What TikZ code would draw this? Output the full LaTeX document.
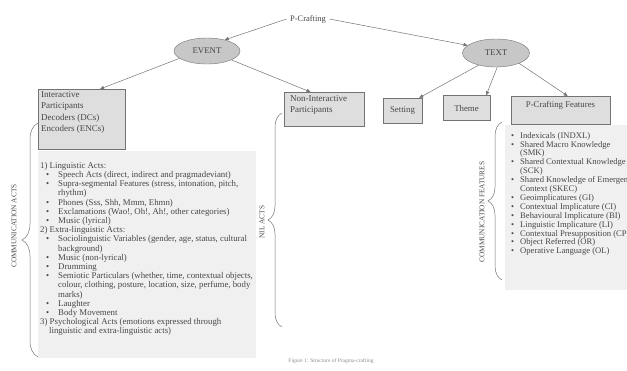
\documentclass[tikz,border=0pt]{standalone}
\usepackage{fontspec}
\setmainfont{Liberation Serif}
\usetikzlibrary{shapes.geometric}
\usetikzlibrary{arrows.meta}
\usetikzlibrary{decorations.pathreplacing}
\usetikzlibrary{calc}
\colorlet{FilledBox}{black!13}
\colorlet{FilledList}{black!6}
\colorlet{FilledOval}{black!22}
\colorlet{LineGray}{black!55}
\colorlet{InkGray}{black!72}
\newcommand{\lbul}{\hspace*{6pt}\makebox[12pt][l]{\textbullet}}
\newcommand{\lcont}{\hspace*{18pt}}
\newcommand{\rbul}{\makebox[9pt][l]{\textbullet}}
\newcommand{\rcont}{\hspace*{9pt}}

\begin{document}
\begin{tikzpicture}[x=1pt, y=-1pt, text=InkGray,
    font=\fontsize{8.8}{9.2}\selectfont,
    arr/.style={draw=LineGray, line width=0.5pt, -{Triangle[length=4pt, width=3.5pt]}},
    greybox/.style={draw=LineGray, fill=FilledBox, inner sep=0pt},
    oval/.style={ellipse, draw=LineGray, fill=FilledOval, inner sep=0pt},
    gbrace/.style={draw=LineGray, line width=0.5pt, decorate, decoration={brace, amplitude=#1}},
    sidelabel/.style={rotate=90, font=\fontsize{7.3}{7.3}\selectfont}]

    \useasboundingbox (0,0) rectangle (627,370);
    \clip (0,0) rectangle (627,370);

    % Raíz y elipses

    \node[font=\fontsize{8.5}{8.5}\selectfont] (pCrafting) at (308,19) {P-Crafting};
    \node[oval, minimum width=66, minimum height=26] (event) at (207,51) {EVENT};
    \node[oval, minimum width=67, minimum height=28] (textOval) at (496,53) {TEXT};

    % Cajas

    \node[greybox, anchor=north west, minimum width=87, minimum height=60] (interactive) at (38,89) {};
    \node[greybox, anchor=north west, minimum width=80, minimum height=34] (nonInteractive) at (284,92) {};
    \node[greybox, minimum width=39, minimum height=25] (setting) at (402.5,110.5) {Setting};
    \node[greybox, minimum width=47, minimum height=25] (theme) at (466.5,108) {Theme};
    \node[greybox, anchor=north west, minimum width=99, minimum height=28] (pcFeatures) at (511,96) {};

    \node[anchor=north west, align=left, inner sep=0pt, font=\fontsize{9}{11.5}\selectfont] (interactiveText) at (41,91)
        {Interactive\\Participants\\Decoders (DCs)\\Encoders (ENCs)};
    \node[anchor=north west, align=left, inner sep=0pt, font=\fontsize{9}{11.5}\selectfont] (nonInteractiveText) at (290,95)
        {Non-Interactive\\Participants};
    \node (pcFeaturesText) at (560.5,105) {P-Crafting Features};

    % Listas

    \fill[FilledList] (38,151) rectangle (256,358);
    \fill[FilledList] (505,125) rectangle (627,290);

    \node[anchor=north west, align=left, inner sep=0pt] (actsList) at (40,162)
        {1) Linguistic Acts:\\
         \lbul Speech Acts (direct, indirect and pragmadeviant)\\
         \lbul Supra-segmental Features (stress, intonation, pitch,\\
         \lcont rhythm)\\
         \lbul Phones (Sss, Shh, Mmm, Ehmn)\\
         \lbul Exclamations (Wao!, Oh!, Ah!, other categories)\\
         \lbul Music (lyrical)\\
         2) Extra-linguistic Acts:\\
         \lbul Sociolinguistic Variables (gender, age, status, cultural\\
         \lcont background)\\
         \lbul Music (non-lyrical)\\
         \lbul Drumming\\
         \lbul Semiotic Particulars (whether, time, contextual objects,\\
         \lcont colour, clothing, posture, location, size, perfume, body\\
         \lcont marks)\\
         \lbul Laughter\\
         \lbul Body Movement\\
         3) Psychological Acts (emotions expressed through\\
         \hspace*{9pt}linguistic and extra-linguistic acts)};

    \node[anchor=north west, align=left, inner sep=0pt, font=\fontsize{8.6}{8.9}\selectfont] (featureList) at (511,132)
        {\rbul Indexicals (INDXL)\\
         \rbul Shared Macro Knowledge\\
         \rcont (SMK)\\
         \rbul Shared Contextual Knowledge\\
         \rcont (SCK)\\
         \rbul Shared Knowledge of Emergent\\
         \rcont Context (SKEC)\\
         \rbul Geoimplicatures (GI)\\
         \rbul Contextual Implicature (CI)\\
         \rbul Behavioural Implicature (BI)\\
         \rbul Linguistic Implicature (LI)\\
         \rbul Contextual Presupposition (CP)\\
         \rbul Object Referred (OR)\\
         \rbul Operative Language (OL)};

    % Llaves

    \coordinate (actsTop) at (38,123);
    \coordinate (actsBottom) at (38,357);
    \coordinate (nilTop) at (282,113);
    \coordinate (nilBottom) at (282,327);
    \coordinate (featTop) at (502,122);
    \coordinate (featBottom) at (502,280);

    \draw[gbrace=16pt] (actsBottom) -- (actsTop);
    \draw[gbrace=14pt] (nilBottom) -- (nilTop);
    \draw[gbrace=14pt] (featBottom) -- (featTop);

    \node[sidelabel] (actsLabel) at (14,226) {COMMUNICATION ACTS};
    \node[sidelabel] (nilLabel) at (262,222) {NIL ACTS};
    \node[sidelabel] (featLabel) at (482,212) {COMMUNICATION FEATURES};

    % Flechas

    \draw[arr] (pCrafting.west) -- (event.32);
    \draw[arr] (pCrafting.east) -- (textOval.165);
    \draw[arr] (event.195) -- ($(interactive.north west)!0.71!(interactive.north east)$);
    \draw[arr] (event.340) -- ($(nonInteractive.north west)!0.33!(nonInteractive.north east)$);
    \draw[arr] (textOval.215) -- ($(setting.north east)+(-3,0)$);
    \draw[arr] (textOval.275) -- ($(theme.north east)+(-4,0)$);
    \draw[arr] (textOval.336) -- ($(pcFeatures.north west)!0.57!(pcFeatures.north east)$);

    \node[font=\fontsize{5.5}{5.5}\selectfont, text=black!45] (caption) at (331,361) {Figure 1: Structure of Pragma-crafting};

\end{tikzpicture}
\end{document}
